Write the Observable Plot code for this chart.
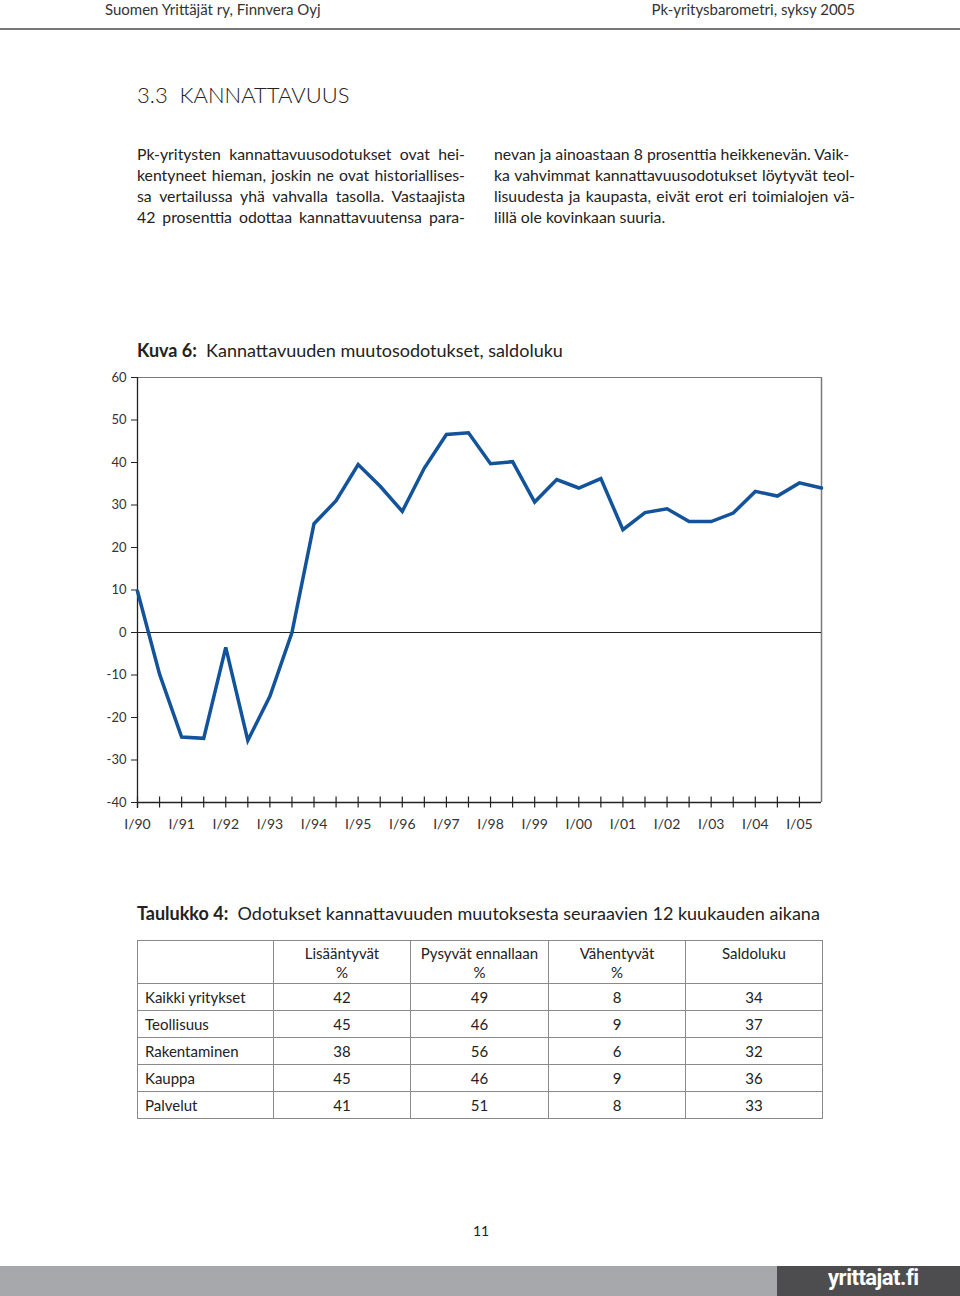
<!DOCTYPE html>
<html>
<head>
<meta charset="utf-8">
<script src="https://cdn.jsdelivr.net/npm/d3@7"></script>
<script src="https://cdn.jsdelivr.net/npm/@observablehq/plot@0.6"></script>
<style>
  html, body { margin: 0; padding: 0; background: #fff; }
  body { width: 960px; height: 1296px; position: relative; overflow: hidden; font-family: Lato, "Open Sans", sans-serif; color: #222; }
  .abs { position: absolute; }
  .hdr { font-size: 15px; color: #333; top: 0; line-height: 18px; }
  .rule { left: 0; top: 28px; width: 960px; height: 2px; background: #777; }
  .h1 { left: 137px; top: 81px; font-size: 22px; font-weight: 300; color: #222; }
  .col { font-size: 15.8px; line-height: 21px; color: #222; }
  .col div { text-align: justify; text-align-last: justify; white-space: nowrap; }
  .col div.last { text-align-last: left; }
  .ctitle { left: 137px; top: 339px; font-size: 18px; color: #222; }
  .ttitle { left: 137px; top: 902px; font-size: 18px; color: #222; }
  #chart { left: 0; top: 360px; }
  table { position: absolute; left: 137px; top: 940px; border-collapse: collapse; font-size: 15px; color: #222; }
  td { border: 1px solid #8a8a8a; padding: 0; height: 26px; text-align: center; line-height: 18px; }
  tr.head td { height: 39px; vertical-align: top; padding-top: 3px; line-height: 19px; }
  td.lab { text-align: left; padding-left: 7px; }
  .pn { left: 473px; top: 1222px; font-size: 14px; }
  .bar { left: 0; top: 1266px; width: 777px; height: 30px; background: #a7a8ab; }
  .bar2 { left: 777px; top: 1266px; width: 183px; height: 30px; background: #4d4d50; }
  .logo { left: 828px; top: 1265px; color: #fff; font-family: "Liberation Sans Narrow", "Roboto", sans-serif; font-weight: bold; font-size: 22px; letter-spacing: -0.5px; }
</style>
</head>
<body>
<div class="abs hdr" style="left:105px">Suomen Yrittäjät ry, Finnvera Oyj</div>
<div class="abs hdr" style="right:105px">Pk-yritysbarometri, syksy 2005</div>
<div class="abs rule"></div>
<div class="abs h1">3.3&nbsp; KANNATTAVUUS</div>

<div class="abs col" style="left:137px; top:143px; width:328px;">
  <div>Pk-yritysten kannattavuusodotukset ovat hei-</div>
  <div>kentyneet hieman, joskin ne ovat historiallises-</div>
  <div>sa vertailussa yhä vahvalla tasolla. Vastaajista</div>
  <div>42 prosenttia odottaa kannattavuutensa para-</div>
</div>
<div class="abs col" style="left:494px; top:143px; width:361px;">
  <div class="last">nevan ja ainoastaan 8 prosenttia heikkenevän. Vaik-</div>
  <div>ka vahvimmat kannattavuusodotukset löytyvät teol-</div>
  <div>lisuudesta ja kaupasta, eivät erot eri toimialojen vä-</div>
  <div class="last">lillä ole kovinkaan suuria.</div>
</div>

<div class="abs ctitle"><b>Kuva 6:</b>&nbsp; Kannattavuuden muutosodotukset, saldoluku</div>
<div class="abs" id="chart"></div>

<div class="abs ttitle"><b>Taulukko 4:</b>&nbsp; Odotukset kannattavuuden muutoksesta seuraavien 12 kuukauden aikana</div>
<table id="tbl"></table>

<div class="abs pn">11</div>
<div class="abs bar"></div>
<div class="abs bar2"></div>
<div class="abs logo">yrittajat.fi</div>

<script>
// ---- chart data ----
const periods = ["I/90","II/90","I/91","II/91","I/92","II/92","I/93","II/93","I/94","II/94",
  "I/95","II/95","I/96","II/96","I/97","II/97","I/98","II/98","I/99","II/99",
  "I/00","II/00","I/01","II/01","I/02","II/02","I/03","II/03","I/04","II/04","I/05","II/05"];
const saldoluku = [9.7,-9.8,-24.6,-24.9,-3.5,-25.4,-15,0,25.6,31,
  39.5,34.4,28.5,38.7,46.6,47,39.7,40.2,30.7,36,
  34,36.2,24.2,28.2,29.1,26.1,26.1,28.1,33.2,32.1,35.2,34];
const yTicks = [-40,-30,-20,-10,0,10,20,30,40,50,60];

// ---- table data ----
const tableColumns = ["Lisääntyvät\n%","Pysyvät ennallaan\n%","Vähentyvät\n%","Saldoluku"];
const tableRows = ["Kaikki yritykset","Teollisuus","Rakentaminen","Kauppa","Palvelut"];
const lisaantyvat = [42,45,38,45,41];
const pysyvat = [49,46,56,46,51];
const vahentyvat = [8,9,6,9,8];
const saldo = [34,37,32,36,33];

const data = periods.map((p, i) => ({i, period: p, value: saldoluku[i]}));
const lastIdx = periods.length - 1;
const minorTicks = periods.slice(0, lastIdx).map((p, i) => i);
const majorTicks = periods.map((p, i) => i).filter(i => periods[i].startsWith("I/"));

const blue = "#12539a";

const chart = Plot.plot({
  width: 960,
  height: 482,
  marginLeft: 137,
  marginRight: 139,
  marginTop: 17,
  marginBottom: 40,
  x: {domain: [0, lastIdx], axis: null},
  y: {domain: [-40, 60], axis: null},
  style: {fontFamily: "Lato, 'Open Sans', sans-serif", color: "#333", background: "transparent", overflow: "visible"},
  marks: [
    Plot.ruleY([60], {stroke: "#7a7a7a", strokeWidth: 1.2}),
    Plot.ruleX([lastIdx], {y1: -40, y2: 60, stroke: "#7a7a7a", strokeWidth: 1.5}),
    Plot.ruleY([0], {stroke: "#222", strokeWidth: 1}),
    Plot.ruleY([-40], {stroke: "#222", strokeWidth: 1.3}),
    Plot.ruleX([0], {y1: -41.4, y2: 60, stroke: "#222", strokeWidth: 1.3}),
    Plot.axisY({ticks: yTicks, tickSize: 6, tickPadding: 5, fontSize: 13, stroke: "#222", label: null, tickFormat: d => String(d)}),
    Plot.ruleX(minorTicks, {x: d => d, y1: -41.3, y2: -38.7, stroke: "#222", strokeWidth: 1.2}),
    Plot.text(majorTicks, {x: d => d, y: -40, dy: 22, text: d => periods[d], fontSize: 14, fill: "#333"}),
    Plot.line(data, {x: "i", y: "value", stroke: blue, strokeWidth: 3.5, strokeLinejoin: "miter", strokeMiterlimit: 4})
  ]
});
document.getElementById("chart").appendChild(chart);

// ---- table ----
const tbl = document.getElementById("tbl");
const widths = [136, 137, 138, 137, 137];
let html = '<tr class="head"><td style="width:' + (widths[0]-1) + 'px"></td>';
tableColumns.forEach((c, j) => {
  html += '<td style="width:' + (widths[j+1]-1) + 'px">' + c.replace("\n", "<br>") + '</td>';
});
html += '</tr>';
tableRows.forEach((r, i) => {
  html += '<tr><td class="lab">' + r + '</td><td>' + lisaantyvat[i] + '</td><td>' + pysyvat[i] +
    '</td><td>' + vahentyvat[i] + '</td><td>' + saldo[i] + '</td></tr>';
});
tbl.innerHTML = html;
</script>
</body>
</html>
